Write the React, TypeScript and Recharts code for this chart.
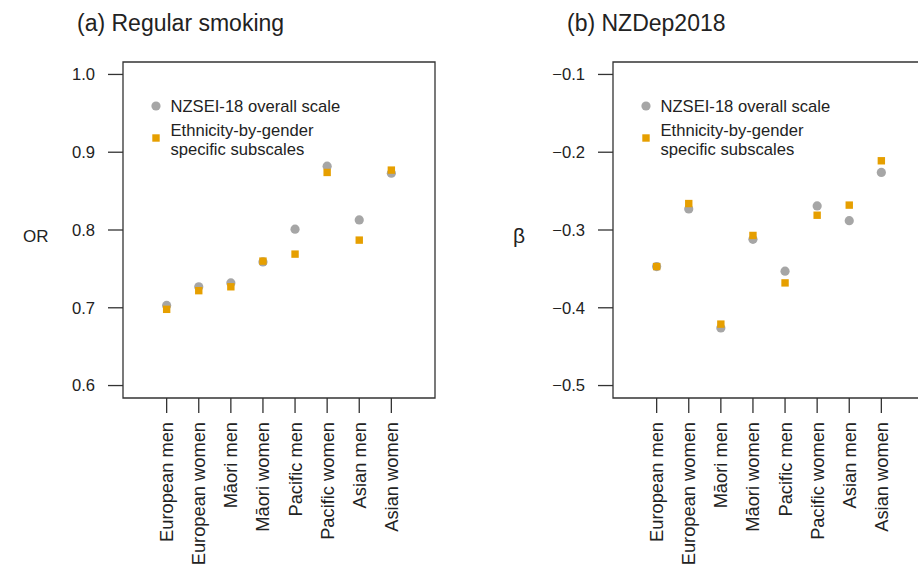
import React from 'react';
import { ScatterChart, Scatter, XAxis, YAxis, ReferenceArea, Legend } from 'recharts';

const categories = ['European men', 'European women', 'Māori men', 'Māori women', 'Pacific men', 'Pacific women', 'Asian men', 'Asian women'];
const categoryPositions = [1, 2, 3, 4, 5, 6, 7, 8];

const smokingOverall = [0.703, 0.727, 0.732, 0.759, 0.801, 0.882, 0.813, 0.873];
const smokingSubscale = [0.698, 0.722, 0.727, 0.760, 0.769, 0.874, 0.787, 0.877];
const smokingTicks = [0.6, 0.7, 0.8, 0.9, 1.0];

const depOverall = [-0.347, -0.273, -0.426, -0.312, -0.353, -0.269, -0.288, -0.226];
const depSubscale = [-0.347, -0.266, -0.421, -0.307, -0.368, -0.281, -0.268, -0.211];
const depTicks = [-0.5, -0.4, -0.3, -0.2, -0.1];

const seriesNames = ['NZSEI-18 overall scale', 'Ethnicity-by-gender specific subscales'];

const FONT = '"Liberation Sans", Arial, Helvetica, sans-serif';
const TEXT = '#222222';
const GREY = '#A6A6A6';
const ORANGE = '#E69F00';

const toPoints = (vals: number[]) => vals.map((v, i) => ({ x: categoryPositions[i], y: v, name: categories[i] }));

const XTick = (props: any) => {
  const { x, y, payload } = props;
  const label = categories[payload.value - 1];
  return (
    <text
      x={x}
      y={y}
      transform={`rotate(-90 ${x} ${y})`}
      textAnchor="end"
      dominantBaseline="central"
      fontSize={18.3}
      fill={TEXT}
      fontFamily={FONT}
    >
      {label}
    </text>
  );
};

const Circle = (props: any) => <circle cx={props.cx} cy={props.cy} r={4.6} fill={GREY} />;
const Square = (props: any) => <rect x={props.cx - 3.7} y={props.cy - 3.7} width={7.4} height={7.4} fill={ORANGE} />;

const LegendBox = () => (
  <div style={{ position: 'relative', width: 280, height: 70, fontFamily: FONT, fontSize: 16.6, color: TEXT, lineHeight: '19px' }}>
    <svg width={12} height={12} style={{ position: 'absolute', left: 4, top: 6 }}>
      <circle cx={6} cy={6} r={4.6} fill={GREY} />
    </svg>
    <div style={{ position: 'absolute', left: 24.5, top: 2.5, whiteSpace: 'nowrap' }}>{seriesNames[0]}</div>
    <svg width={12} height={12} style={{ position: 'absolute', left: 4, top: 38 }}>
      <rect x={2.3} y={2.3} width={7.4} height={7.4} fill={ORANGE} />
    </svg>
    <div style={{ position: 'absolute', left: 24.5, top: 26.5, whiteSpace: 'nowrap' }}>
      Ethnicity-by-gender
      <br />
      specific subscales
    </div>
  </div>
);

type PanelProps = {
  left: number;
  title: string;
  yLabel: string;
  yLabelSize: number;
  overall: number[];
  subscale: number[];
  ticks: number[];
  fmt: (v: number) => string;
};

const Panel = ({ left, title, yLabel, yLabelSize, overall, subscale, ticks, fmt }: PanelProps) => {
  const lo = ticks[0];
  const hi = ticks[ticks.length - 1];
  const pad = (hi - lo) * 0.04;
  const yDomain: [number, number] = [lo - pad, hi + pad];
  const xDomain: [number, number] = [-0.36, 9.36];
  return (
    <div style={{ position: 'absolute', left, top: 0, width: 490, height: 568 }}>
      <div style={{ position: 'absolute', left: 77, top: 8, fontFamily: FONT, fontSize: 23, color: TEXT, whiteSpace: 'nowrap', lineHeight: '30px' }}>
        {title}
      </div>
      <ScatterChart width={490} height={568} margin={{ top: 62, right: 55, bottom: 0, left: 23 }}>
        <XAxis
          type="number"
          dataKey="x"
          domain={xDomain}
          ticks={categoryPositions}
          interval={0}
          allowDataOverflow
          axisLine={false}
          tickLine={{ stroke: '#333', strokeWidth: 1.3 }}
          tickSize={15}
          tickMargin={9}
          height={170}
          tick={<XTick />}
        />
        <YAxis
          type="number"
          dataKey="y"
          domain={yDomain}
          ticks={ticks}
          interval={0}
          allowDataOverflow
          axisLine={false}
          tickLine={{ stroke: '#333', strokeWidth: 1.3 }}
          tickSize={15}
          tickMargin={13}
          width={100}
          tickFormatter={fmt}
          tick={{ fontSize: 16.6, fill: TEXT, fontFamily: FONT }}
          label={{ value: yLabel, position: 'insideLeft', offset: 0, dy: 6, fontSize: yLabelSize, fill: TEXT, fontFamily: FONT }}
        />
        <ReferenceArea
          x1={xDomain[0]}
          x2={xDomain[1]}
          y1={yDomain[0]}
          y2={yDomain[1]}
          fill="none"
          fillOpacity={0}
          stroke="#333"
          strokeWidth={1.3}
          ifOverflow="visible"
        />
        <Legend
          layout="vertical"
          align="center"
          verticalAlign="middle"
          wrapperStyle={{ left: 146, top: 94, width: 280 }}
          content={() => <LegendBox />}
        />
        <Scatter name={seriesNames[0]} data={toPoints(overall)} shape={<Circle />} isAnimationActive={false} />
        <Scatter name={seriesNames[1]} data={toPoints(subscale)} shape={<Square />} isAnimationActive={false} />
      </ScatterChart>
    </div>
  );
};

export default function App() {
  return (
    <div style={{ position: 'absolute', left: 0, top: 0, width: 918, height: 568, overflow: 'hidden', background: '#fff' }}>
      <Panel
        left={0}
        title="(a) Regular smoking"
        yLabel="OR"
        yLabelSize={17}
        overall={smokingOverall}
        subscale={smokingSubscale}
        ticks={smokingTicks}
        fmt={(v) => v.toFixed(1)}
      />
      <Panel
        left={490}
        title="(b) NZDep2018"
        yLabel="β"
        yLabelSize={21}
        overall={depOverall}
        subscale={depSubscale}
        ticks={depTicks}
        fmt={(v) => v.toFixed(1).replace('-', '\u2212')}
      />
    </div>
  );
}
